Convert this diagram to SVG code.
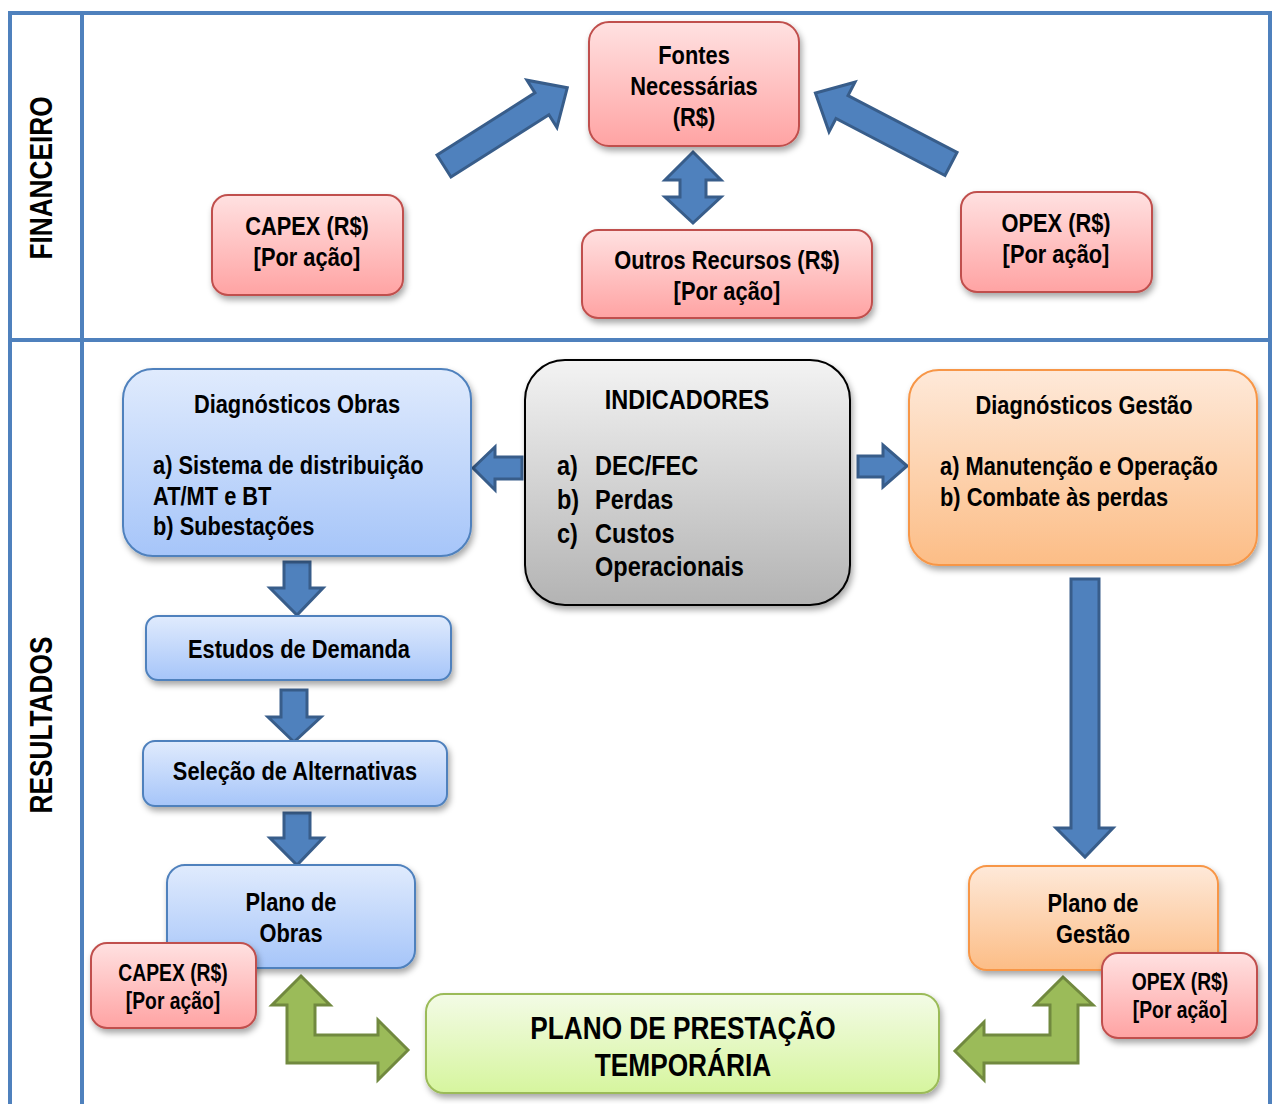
<svg xmlns="http://www.w3.org/2000/svg" width="1274" height="1104" viewBox="0 0 1274 1104">
<defs>
<linearGradient id="gRed" x1="0" y1="0" x2="0" y2="1"><stop offset="0" stop-color="#ffe1e1"/><stop offset="1" stop-color="#ffa3a3"/></linearGradient>
<linearGradient id="gBlue" x1="0" y1="0" x2="0" y2="1"><stop offset="0" stop-color="#e0ebfd"/><stop offset="1" stop-color="#a6c5f9"/></linearGradient>
<linearGradient id="gOrange" x1="0" y1="0" x2="0" y2="1"><stop offset="0" stop-color="#fee9d9"/><stop offset="1" stop-color="#fcbd86"/></linearGradient>
<linearGradient id="gGray" x1="0" y1="0" x2="0" y2="1"><stop offset="0" stop-color="#f3f3f3"/><stop offset="1" stop-color="#b3b3b3"/></linearGradient>
<linearGradient id="gGreen" x1="0" y1="0" x2="0" y2="1"><stop offset="0" stop-color="#f3fbe6"/><stop offset="1" stop-color="#d6f59e"/></linearGradient>
<filter id="sh" x="-10%" y="-10%" width="130%" height="140%"><feDropShadow dx="2" dy="4" stdDeviation="3" flood-color="#000" flood-opacity="0.35"/></filter>
</defs>
<style>
.t{font-family:"Liberation Sans",Arial,sans-serif;font-weight:bold;fill:#000;}
.c{text-anchor:middle;}
.red{fill:url(#gRed);stroke:#c0504d;stroke-width:2;filter:url(#sh);}
.blue{fill:url(#gBlue);stroke:#4f81bd;stroke-width:2;filter:url(#sh);}
.orange{fill:url(#gOrange);stroke:#f79646;stroke-width:2;filter:url(#sh);}
.gray{fill:url(#gGray);stroke:#000;stroke-width:2;filter:url(#sh);}
.green{fill:url(#gGreen);stroke:#9bbb59;stroke-width:2;filter:url(#sh);}
.ba{fill:#4f81bd;stroke:#385d8a;stroke-width:3;stroke-linejoin:miter;}
.ga{fill:#9bbb59;stroke:#71893f;stroke-width:3;stroke-linejoin:miter;}
.frame{fill:none;stroke:#4f81bd;stroke-width:4;}
</style>

<g id="lanes">
<rect class="frame" x="10" y="13" width="1260" height="1100"/>
<line class="frame" x1="10" y1="340" x2="1270" y2="340"/>
<line class="frame" x1="82" y1="13" x2="82" y2="1104"/>
<text class="t c" font-size="32" transform="translate(52,178) rotate(-90) scale(0.82,1)">FINANCEIRO</text>
<text class="t c" font-size="32" transform="translate(52,725) rotate(-90) scale(0.82,1)">RESULTADOS</text>
</g>

<g id="connectors">
<path class="ba" transform="translate(444,166) rotate(-32.4)" d="M0,-13 L116,-13 L116,-28 L146,0 L116,28 L116,13 L0,13 Z"/>
<path class="ba" transform="translate(951,164) rotate(-152.4)" d="M0,-13 L123,-13 L123,-28 L153,0 L123,28 L123,13 L0,13 Z"/>
<path class="ba" d="M693,152 L721,180 L706,180 L706,197 L721,197 L693,223 L665,197 L680,197 L680,180 L665,180 Z"/>
<path class="ba" d="M473,468 L495,447 L495,457 L522,457 L522,479 L495,479 L495,490 Z"/>
<path class="ba" d="M907,466 L883,445 L883,456 L858,456 L858,477 L883,477 L883,487 Z"/>
<path class="ba" d="M284,562 L310,562 L310,588 L323,588 L297,615 L270,588 L284,588 Z"/>
<path class="ba" d="M281,690 L307,690 L307,717 L321,717 L294,742 L268,717 L281,717 Z"/>
<path class="ba" d="M284,813 L310,813 L310,838 L323,838 L297,865 L270,838 L284,838 Z"/>
<path class="ba" d="M1071,579 L1099,579 L1099,828 L1113,828 L1085,857 L1056,828 L1071,828 Z"/>
<path class="ga" d="M301,976 L330,1005 L315,1005 L315,1035 L378,1035 L378,1020 L408,1050 L378,1080 L378,1063 L287,1063 L287,1005 L272,1005 Z"/>
<path class="ga" d="M1063,977 L1093,1005 L1078,1005 L1078,1063 L984,1063 L984,1080 L955,1051 L984,1022 L984,1035 L1050,1035 L1050,1005 L1035,1005 Z"/>
</g>

<g id="fontes">
<rect class="red" x="589" y="22" width="210" height="124" rx="20"/>
<text class="t c" font-size="26" transform="translate(694,64) scale(0.84,1)">Fontes</text>
<text class="t c" font-size="26" transform="translate(694,95) scale(0.84,1)">Necessárias</text>
<text class="t c" font-size="26" transform="translate(694,126) scale(0.84,1)">(R$)</text>
</g>
<g id="capex-top">
<rect class="red" x="212" y="195" width="191" height="100" rx="16"/>
<text class="t c" font-size="26" transform="translate(307,235) scale(0.84,1)">CAPEX (R$)</text>
<text class="t c" font-size="26" transform="translate(307,266) scale(0.84,1)">[Por ação]</text>
</g>
<g id="outros">
<rect class="red" x="582" y="230" width="290" height="88" rx="16"/>
<text class="t c" font-size="26" transform="translate(727,269) scale(0.84,1)">Outros Recursos (R$)</text>
<text class="t c" font-size="26" transform="translate(727,300) scale(0.84,1)">[Por ação]</text>
</g>
<g id="opex-top">
<rect class="red" x="961" y="192" width="191" height="100" rx="16"/>
<text class="t c" font-size="26" transform="translate(1056,232) scale(0.84,1)">OPEX (R$)</text>
<text class="t c" font-size="26" transform="translate(1056,263) scale(0.84,1)">[Por ação]</text>
</g>

<g id="diag-obras">
<rect class="blue" x="123" y="369" width="348" height="187" rx="30"/>
<text class="t c" font-size="26" transform="translate(297,413) scale(0.84,1)">Diagnósticos Obras</text>
<text class="t" font-size="26" transform="translate(153,474) scale(0.84,1)">a) Sistema de distribuição</text>
<text class="t" font-size="26" transform="translate(153,505) scale(0.84,1)">AT/MT e BT</text>
<text class="t" font-size="26" transform="translate(153,535) scale(0.84,1)">b) Subestações</text>
</g>
<g id="indicadores">
<rect class="gray" x="525" y="360" width="325" height="245" rx="40"/>
<text class="t c" font-size="28" transform="translate(687,409) scale(0.84,1)">INDICADORES</text>
<text class="t" font-size="28" transform="translate(557,475) scale(0.84,1)">a)</text><text class="t" font-size="28" transform="translate(595,475) scale(0.84,1)">DEC/FEC</text>
<text class="t" font-size="28" transform="translate(557,509) scale(0.84,1)">b)</text><text class="t" font-size="28" transform="translate(595,509) scale(0.84,1)">Perdas</text>
<text class="t" font-size="28" transform="translate(557,543) scale(0.84,1)">c)</text><text class="t" font-size="28" transform="translate(595,543) scale(0.84,1)">Custos</text>
<text class="t" font-size="28" transform="translate(595,576) scale(0.84,1)">Operacionais</text>
</g>
<g id="diag-gestao">
<rect class="orange" x="909" y="370" width="348" height="195" rx="30"/>
<text class="t c" font-size="26" transform="translate(1084,414) scale(0.84,1)">Diagnósticos Gestão</text>
<text class="t" font-size="26" transform="translate(940,475) scale(0.84,1)">a) Manutenção e Operação</text>
<text class="t" font-size="26" transform="translate(940,506) scale(0.84,1)">b) Combate às perdas</text>
</g>
<g id="estudos">
<rect class="blue" x="146" y="616" width="305" height="64" rx="12"/>
<text class="t c" font-size="26" transform="translate(299,658) scale(0.84,1)">Estudos de Demanda</text>
</g>
<g id="selecao">
<rect class="blue" x="143" y="741" width="304" height="65" rx="12"/>
<text class="t c" font-size="26" transform="translate(295,780) scale(0.84,1)">Seleção de Alternativas</text>
</g>
<g id="plano-obras">
<rect class="blue" x="167" y="865" width="248" height="103" rx="18"/>
<text class="t c" font-size="26" transform="translate(291,911) scale(0.84,1)">Plano de</text>
<text class="t c" font-size="26" transform="translate(291,942) scale(0.84,1)">Obras</text>
</g>
<g id="capex-bottom">
<rect class="red" x="91" y="943" width="165" height="85" rx="16"/>
<text class="t c" font-size="23" transform="translate(173,981) scale(0.84,1)">CAPEX (R$)</text>
<text class="t c" font-size="23" transform="translate(173,1009) scale(0.84,1)">[Por ação]</text>
</g>
<g id="plano-gestao">
<rect class="orange" x="969" y="866" width="249" height="104" rx="18"/>
<text class="t c" font-size="26" transform="translate(1093,912) scale(0.84,1)">Plano de</text>
<text class="t c" font-size="26" transform="translate(1093,943) scale(0.84,1)">Gestão</text>
</g>
<g id="opex-bottom">
<rect class="red" x="1102" y="953" width="155" height="85" rx="16"/>
<text class="t c" font-size="23" transform="translate(1180,990) scale(0.84,1)">OPEX (R$)</text>
<text class="t c" font-size="23" transform="translate(1180,1018) scale(0.84,1)">[Por ação]</text>
</g>
<g id="plano-prestacao">
<rect class="green" x="426" y="994" width="513" height="99" rx="18"/>
<text class="t c" font-size="32" transform="translate(683,1039) scale(0.82,1)">PLANO DE PRESTAÇÃO</text>
<text class="t c" font-size="32" transform="translate(683,1076) scale(0.82,1)">TEMPORÁRIA</text>
</g>
</svg>
